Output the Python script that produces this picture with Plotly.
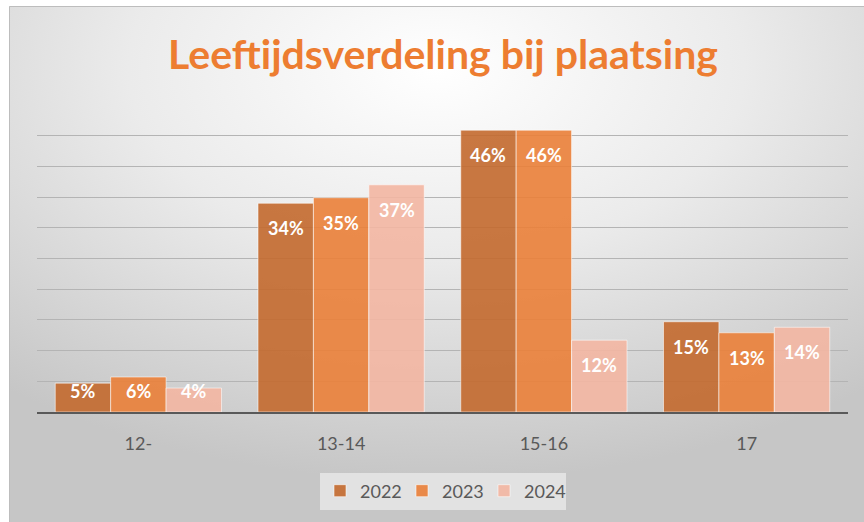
import base64
import plotly.graph_objects as go

# ---- data ----
categories = ["12-", "13-14", "15-16", "17"]
years = ["2022", "2023", "2024"]
values_2022 = [4.7, 34.0, 45.9, 14.7]
values_2023 = [5.7, 34.9, 45.9, 12.9]
values_2024 = [3.9, 37.0, 11.7, 13.8]
series = [values_2022, values_2023, values_2024]

title_text = "Leeftijdsverdeling bij plaatsing"

# ---- style ----
colors = ["rgba(195,105,46,0.9)", "rgba(234,127,57,0.9)", "rgba(243,182,162,0.9)"]
FONT = "Lato"
W, H = 864, 522
L, R, T, B = 37, 16, 105, 110   # plot area 37..848 x 105..412
plot_w = W - L - R
plot_h = H - T - B
bargap = 0.18
bar_px = plot_w / len(categories) * (1 - bargap) / 3

fig = go.Figure()
for name, vals, col in zip(years, series, colors):
    fig.add_trace(go.Bar(
        x=categories, y=vals, name=name,
        marker=dict(color=col, line=dict(color="rgba(255,255,255,0.55)", width=1)),
        hoverinfo="skip",
    ))

# data labels (white, bold, inside near top)
px_per_unit = plot_h / 50.0
for i, vals in enumerate(series):
    for j, v in enumerate(vals):
        if v * px_per_unit > 50:
            y, ysh = v, -25
        else:
            y, ysh = 0, 21
        fig.add_annotation(
            x=j, y=y, xref="x", yref="y", text=f"{round(v):d}%",
            showarrow=False, xshift=(i - 1) * bar_px, yshift=ysh,
            yanchor="middle", xanchor="center",
            font=dict(family=FONT, size=18, color="white", weight="bold"),
        )

# background: radial gradient panel
svg = f"""<svg xmlns='http://www.w3.org/2000/svg' width='855' height='516' viewBox='0 0 855 516' preserveAspectRatio='none'>
<defs><radialGradient id='g' cx='0.5' cy='0.12' r='0.8' gradientUnits='objectBoundingBox'>
<stop offset='0' stop-color='#ffffff'/><stop offset='0.45' stop-color='#ebebeb'/><stop offset='1' stop-color='#c6c6c6'/>
</radialGradient></defs>
<rect x='0' y='0' width='855' height='516' fill='url(#g)'/></svg>"""
uri = "data:image/svg+xml;base64," + base64.b64encode(svg.encode()).decode()

def px_x(X):
    return (X - L) / plot_w

def px_y(Y):
    return (H - B - Y) / plot_h

fig.add_layout_image(
    source=uri, xref="paper", yref="paper",
    x=px_x(9), y=px_y(6), sizex=px_x(864) - px_x(9), sizey=px_y(6) - px_y(522),
    xanchor="left", yanchor="top", sizing="stretch", layer="below",
)
fig.add_shape(type="rect", xref="paper", yref="paper",
              x0=px_x(9.5), x1=px_x(870), y0=px_y(6.5), y1=px_y(530),
              line=dict(color="#bdbdbd", width=1), fillcolor="rgba(0,0,0,0)", layer="below")

fig.update_layout(
    width=W, height=H,
    margin=dict(l=L, r=R, t=T, b=B, autoexpand=False),
    paper_bgcolor="white", plot_bgcolor="rgba(0,0,0,0)",
    barmode="group", bargap=bargap, bargroupgap=0,
    title=dict(text=title_text, x=443 / W, y=1 - 55 / H, xanchor="center", yanchor="middle",
               xref="container", yref="container",
               font=dict(family=FONT, size=41, color="#ED7D31", weight="bold")),
    font=dict(family=FONT, color="#595959", size=18),
    showlegend=True,
    legend=dict(orientation="h", x=px_x(443), xanchor="center", y=px_y(491), yanchor="middle",
                bgcolor="#e2e2e2", font=dict(family=FONT, size=18, color="#595959"),
                traceorder="normal", entrywidth=37, entrywidthmode="pixels"),
)
fig.update_xaxes(type="category", range=[-0.5, 3.5], autorange=False, automargin=False,
                 showline=True, linecolor="#595959", linewidth=2, ticks="",
                 tickangle=0, ticklabelstandoff=14, tickfont=dict(size=18, color="#595959"),
                 showgrid=False)
fig.update_yaxes(range=[0, 50], dtick=5, showticklabels=False, showgrid=True, automargin=False,
                 gridcolor="#b4b4b4", gridwidth=1, zeroline=False, showline=False)

fig.write_html("out.html", config={"displayModeBar": False},
               post_script="document.body.style.margin='0';document.body.style.overflow='hidden';")
